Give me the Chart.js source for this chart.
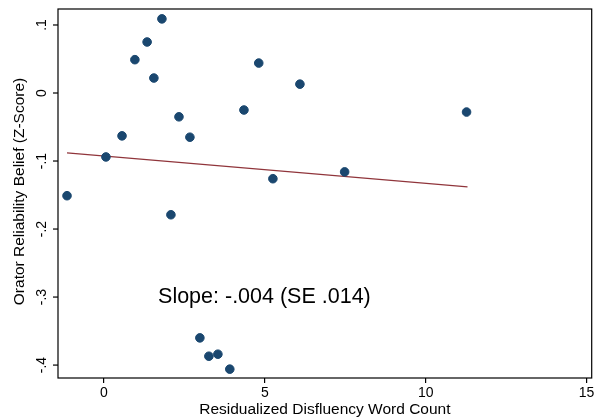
<!DOCTYPE html>
<html>
<head>
<script src="https://cdn.jsdelivr.net/npm/chart.js@4"></script>
<style>
  body { margin: 0; background: #fff; }
  #wrap { width: 597px; height: 419px; }
</style>
</head>
<body>
<div id="wrap"><canvas id="c"></canvas></div>
<script>
const xVals = [-1.15, 0.06, 0.56, 0.96, 1.34, 1.55, 1.80, 2.08, 2.33, 2.67, 2.98, 3.26, 3.54, 3.91, 4.35, 4.81, 5.25, 6.09, 7.48, 11.27];
const yVals = [-0.151, -0.094, -0.063, 0.049, 0.075, 0.022, 0.109, -0.179, -0.035, -0.065, -0.360, -0.387, -0.384, -0.406, -0.025, 0.044, -0.126, 0.013, -0.116, -0.028];
const fitX = [-1.15, 11.3];
const fitY = [-0.088, -0.138];
const xTicks = [0, 5, 10, 15];
const yTicks = [0.1, 0, -0.1, -0.2, -0.3, -0.4];
const yTickLabels = ['.1', '0', '-.1', '-.2', '-.3', '-.4'];
const note = 'Slope: -.004 (SE .014)';

const font = '"Liberation Sans", Arial, sans-serif';

const stataLook = {
  id: 'stataLook',
  afterDraw(chart) {
    const ctx = chart.ctx, a = chart.chartArea;
    const ys = chart.scales.y, xs = chart.scales.x;
    ctx.save();
    ctx.strokeStyle = '#000';
    ctx.lineWidth = 1.2;
    ctx.strokeRect(a.left, a.top, a.right - a.left, a.bottom - a.top);
    ctx.fillStyle = '#000';
    ctx.font = '14px ' + font;
    ctx.textAlign = 'center';
    ctx.textBaseline = 'middle';
    yTicks.forEach((v, i) => {
      const py = ys.getPixelForValue(v);
      ctx.beginPath();
      ctx.moveTo(a.left - 5, py);
      ctx.lineTo(a.left, py);
      ctx.stroke();
      ctx.save();
      ctx.translate(a.left - 16, py);
      ctx.rotate(-Math.PI / 2);
      ctx.fillText(yTickLabels[i], 0, 0);
      ctx.restore();
    });
    ctx.font = '15.5px ' + font;
    ctx.save();
    ctx.translate(20, (a.top + a.bottom) / 2 - 2);
    ctx.rotate(-Math.PI / 2);
    ctx.fillText('Orator Reliability Belief (Z-Score)', 0, 0);
    ctx.restore();
    ctx.font = '21.5px ' + font;
    ctx.textAlign = 'left';
    ctx.fillText(note, xs.getPixelForValue(1.68), ys.getPixelForValue(-0.30));
    ctx.restore();
  }
};

new Chart(document.getElementById('c'), {
  type: 'scatter',
  data: {
    datasets: [
      {
        data: xVals.map((x, i) => ({ x, y: yVals[i] })),
        backgroundColor: '#1a476f',
        borderColor: '#1a476f',
        pointRadius: 4.3,
        pointHoverRadius: 4.3
      },
      {
        type: 'line',
        data: fitX.map((x, i) => ({ x, y: fitY[i] })),
        borderColor: '#90353b',
        borderWidth: 1.3,
        pointRadius: 0,
        fill: false
      }
    ]
  },
  options: {
    responsive: true,
    maintainAspectRatio: false,
    animation: false,
    layout: { padding: { top: 9, right: 1, left: 0, bottom: 0 } },
    plugins: { legend: { display: false }, tooltip: { enabled: false } },
    scales: {
      x: {
        type: 'linear',
        min: -1.43, max: 15.16,
        afterBuildTicks(s) { s.ticks = xTicks.map(v => ({ value: v })); },
        afterFit(s) { s.height = 41; },
        grid: { drawOnChartArea: false, drawTicks: true, tickLength: 5, color: '#000', lineWidth: 1.2 },
        border: { display: false },
        ticks: { color: '#000', font: { family: font, size: 14 }, padding: 2, maxRotation: 0 },
        title: { display: true, text: 'Residualized Disfluency Word Count', color: '#000', font: { family: font, size: 15.5 }, padding: { top: 0, bottom: 0 } }
      },
      y: {
        type: 'linear',
        min: -0.419, max: 0.1235,
        afterFit(s) { s.width = 58; },
        grid: { display: false },
        border: { display: false },
        ticks: { display: false }
      }
    }
  },
  plugins: [stataLook]
});
</script>
</body>
</html>
